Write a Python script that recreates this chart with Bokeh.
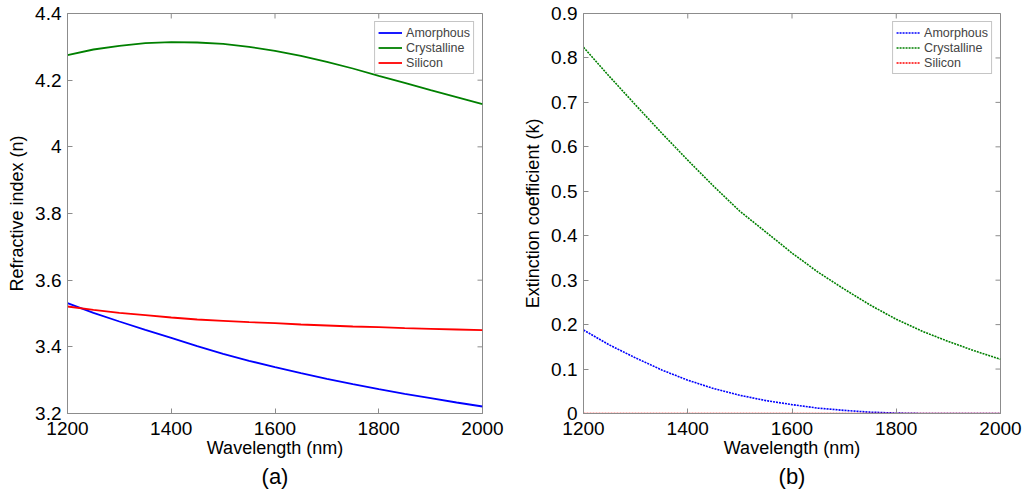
import math
from bokeh.plotting import figure
from bokeh.layouts import row
from bokeh.models import FixedTicker, PrintfTickFormatter, Title, Range1d
from bokeh.embed import file_html
from bokeh.resources import INLINE

FONT = "Liberation Sans"

wavelength = [1200, 1250, 1300, 1350, 1400, 1450, 1500, 1550, 1600,
              1650, 1700, 1750, 1800, 1850, 1900, 1950, 2000]

# Refractive index n
n_amorphous = [3.531, 3.502, 3.476, 3.451, 3.427, 3.402, 3.379, 3.358, 3.339,
               3.321, 3.304, 3.288, 3.273, 3.259, 3.246, 3.233, 3.221]
n_crystalline = [4.275, 4.292, 4.303, 4.311, 4.314, 4.313, 4.309, 4.300, 4.288,
                 4.273, 4.255, 4.235, 4.213, 4.192, 4.170, 4.149, 4.128]
n_silicon = [3.521, 3.511, 3.502, 3.495, 3.488, 3.482, 3.478, 3.474, 3.471,
             3.467, 3.464, 3.461, 3.459, 3.456, 3.454, 3.452, 3.450]

# Extinction coefficient k
k_amorphous = [0.188, 0.154, 0.125, 0.098, 0.075, 0.056, 0.041, 0.029, 0.020,
               0.012, 0.007, 0.003, 0.001, 0.0, 0.0, 0.0, 0.0]
k_crystalline = [0.824, 0.758, 0.694, 0.631, 0.570, 0.511, 0.455, 0.408, 0.361,
                 0.318, 0.280, 0.244, 0.212, 0.185, 0.162, 0.141, 0.122]
k_silicon = [0.0] * 17

series_names = ["Amorphous", "Crystalline", "Silicon"]
series_colors = ["#0000ff", "#008000", "#ff0000"]

x_ticks = [1200, 1400, 1600, 1800, 2000]
n_ticks = [3.2, 3.4, 3.6, 3.8, 4.0, 4.2, 4.4]
k_ticks = [0.0, 0.1, 0.2, 0.3, 0.4, 0.5, 0.6, 0.7, 0.8, 0.9]

GRAY = "#8c8c8c"
XMIN, XMAX = 1200, 2000


def make_panel(width, bl, br, ylim, yticks, ylabel, tag, ys, dash, lw):
    p = figure(width=width, height=490, x_range=Range1d(XMIN, XMAX),
               y_range=Range1d(*ylim), output_backend="svg", toolbar_location=None,
               min_border_left=bl, min_border_right=br, min_border_top=13,
               min_border_bottom=10)
    p.background_fill_color = "white"
    p.border_fill_color = "white"
    p.outline_line_color = GRAY
    p.grid.visible = False
    for name, color, y in zip(series_names, series_colors, ys):
        p.line(wavelength, y, line_color=color, line_width=lw, line_dash=dash,
               legend_label=name)

    # inward ticks on the top and right edges of the box
    p.scatter(x_ticks, [ylim[1]] * len(x_ticks), marker="dash", size=10,
              angle=math.pi / 2, line_color=GRAY, line_width=1)
    p.scatter([XMAX] * len(yticks), yticks, marker="dash", size=10,
              line_color=GRAY, line_width=1)

    p.xaxis.ticker = FixedTicker(ticks=x_ticks)
    p.yaxis.ticker = FixedTicker(ticks=yticks)
    p.yaxis.formatter = PrintfTickFormatter(format="%g")
    p.xaxis.axis_label = "Wavelength (nm)"
    p.yaxis.axis_label = ylabel
    for ax in p.xaxis + p.yaxis:
        ax.axis_line_color = GRAY
        ax.major_tick_line_color = GRAY
        ax.major_tick_in = 5
        ax.major_tick_out = 0
        ax.minor_tick_line_color = None
        ax.major_label_text_font = FONT
        ax.major_label_text_font_size = "19px"
        ax.major_label_text_color = "black"
        ax.axis_label_text_font = FONT
        ax.axis_label_text_font_size = "18px"
        ax.axis_label_text_font_style = "normal"
        ax.axis_label_text_color = "black"
    p.xaxis.major_label_standoff = 8
    p.xaxis.axis_label_standoff = 0
    p.yaxis.major_label_standoff = 6
    p.yaxis.axis_label_standoff = 5

    p.add_layout(Title(text=tag, align="center", text_font=FONT, text_font_size="22px",
                       text_font_style="normal", text_color="black", standoff=3), "below")

    lg = p.legend[0]
    lg.location = "top_right"
    lg.margin = 8
    lg.padding = 3
    lg.spacing = 0
    lg.glyph_width = 24
    lg.glyph_height = 15
    lg.label_height = 15
    lg.label_standoff = 4
    lg.label_text_font = FONT
    lg.label_text_font_size = "12.5px"
    lg.border_line_color = GRAY
    lg.border_line_width = 1
    lg.background_fill_alpha = 1
    return p


pa = make_panel(510, 67, 28, (3.2, 4.4), n_ticks, "Refractive index (n)", "(a)",
                [n_amorphous, n_crystalline, n_silicon], "solid", 1.8)
pb = make_panel(513, 73, 23, (0.0, 0.9), k_ticks, "Extinction coefficient (k)", "(b)",
                [k_amorphous, k_crystalline, k_silicon], "2 1", 1.6)

layout = row(pa, pb, spacing=0)
open("out.html", "w").write(file_html(layout, INLINE))
